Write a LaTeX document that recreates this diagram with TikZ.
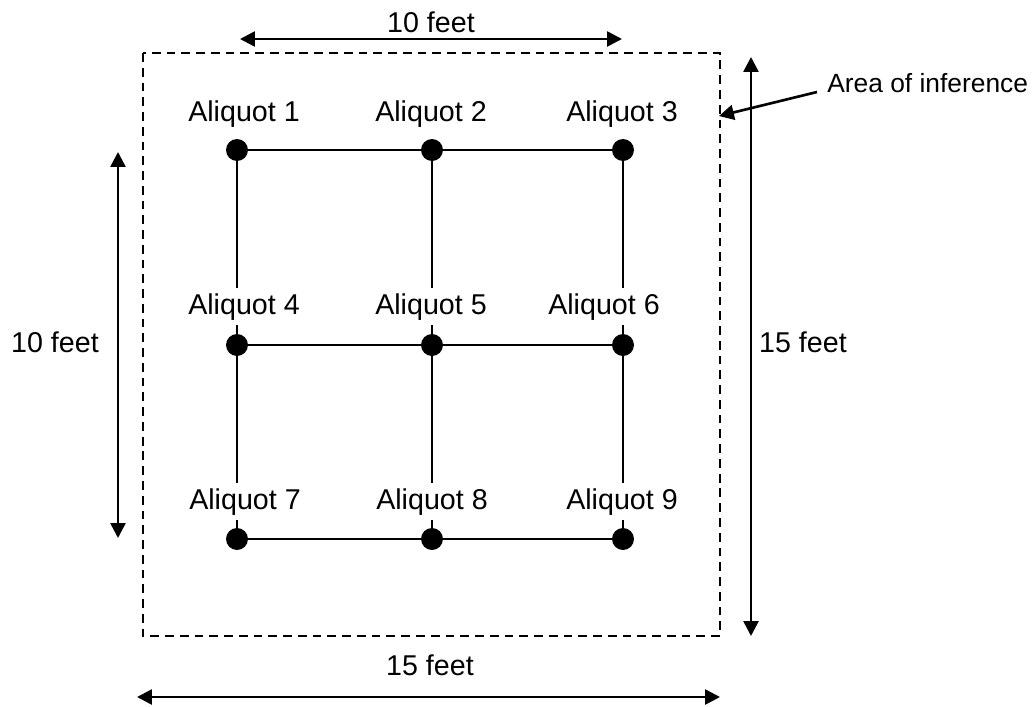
\documentclass[tikz,border=0pt]{standalone}
\usepackage{fontspec}
\setmainfont{Liberation Sans}
\usepackage{tikz}
\usetikzlibrary{arrows.meta,positioning}

\begin{document}
\begin{tikzpicture}[x=0.02cm,y=-0.02cm,
  punkt/.style={circle,fill=black,inner sep=0pt,minimum size=0.44cm},
  beschriftung/.style={fill=white,inner sep=3pt,font=\fontsize{16.3}{18}\selectfont},
  masspfeil/.style={line width=1.5pt,{Triangle[length=8.5pt,width=8.5pt]}-{Triangle[length=8.5pt,width=8.5pt]}},
  hinweis/.style={line width=1.5pt,-{Triangle[length=8.5pt,width=8.5pt]}}]
\useasboundingbox (0,0) rectangle (1036,707);
%Flaeche (gestrichelt)
\draw[line width=0.8pt,dash pattern=on 5pt off 3.4pt] (143,53) rectangle (720,636);
%Probenpunkte im Raster
\foreach \i/\x/\y in {1/237/150,2/432/150,3/623/150,4/237/345,5/432/345,6/623/345,7/237/539,8/432/539,9/623/539}{
  \node[punkt] (p\i) at (\x,\y) {};
}
\draw[line width=1pt] (p1) -- (p2) -- (p3);
\draw[line width=1pt] (p4) -- (p5) -- (p6);
\draw[line width=1pt] (p7) -- (p8) -- (p9);
\draw[line width=1pt] (p1) -- (p4) -- (p7);
\draw[line width=1pt] (p2) -- (p5) -- (p8);
\draw[line width=1pt] (p3) -- (p6) -- (p9);
%Beschriftung ueber den Punkten
\foreach \i/\x/\y in {1/244/121,2/431/121,3/622/121,4/244/314,5/431/314,6/604/314,7/245/509,8/432/509,9/622/509}{
  \node[beschriftung,anchor=base] (a\i) at (\x,\y) {Aliquot \i};
}
%Masspfeile
\coordinate (obenL) at (240,39);
\coordinate (obenR) at (622,39);
\coordinate (rechtsO) at (751,57);
\coordinate (rechtsU) at (751,636);
\coordinate (linksO) at (118,152);
\coordinate (linksU) at (118,538);
\coordinate (untenL) at (137,697);
\coordinate (untenR) at (720,697);
\draw[masspfeil] (obenL) -- (obenR);
\draw[masspfeil] (rechtsO) -- (rechtsU);
\draw[masspfeil] (linksO) -- (linksU);
\draw[masspfeil] (untenL) -- (untenR);
\node[beschriftung,fill=none,anchor=base] (mOben) at (431,32) {10 feet};
\node[beschriftung,fill=none] (mRechts) at (803,342) {15 feet};
\node[beschriftung,fill=none] (mLinks) at (55,342) {10 feet};
\node[beschriftung,fill=none] (mUnten) at (430,665) {15 feet};
%Hinweis auf die Flaeche
\node[font=\fontsize{15}{17}\selectfont,anchor=west,inner sep=0pt] (flaeche) at (827,83) {Area of inference};
\coordinate (rand) at (719,116);
\draw[hinweis] (817,92) -- (rand);
\end{tikzpicture}
\end{document}
